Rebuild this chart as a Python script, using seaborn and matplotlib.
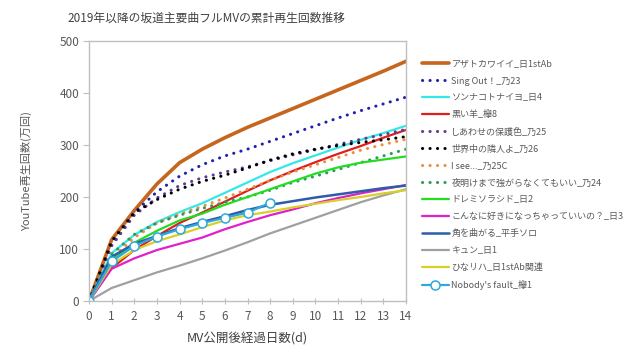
import numpy as np
import pandas as pd
import matplotlib
matplotlib.use('Agg')
import matplotlib.pyplot as plt
import seaborn as sns

days = list(range(15))

azato = [0, 118, 174, 225, 266, 292, 314, 334, 352, 370, 388, 406, 424, 442, 461]
sing_out = [0, 108, 170, 210, 240, 262, 279, 292, 307, 322, 337, 352, 366, 379, 392]
sonnakoto = [0, 92, 127, 152, 171, 188, 208, 228, 248, 265, 280, 295, 310, 323, 337]
kuroi = [0, 63, 98, 125, 150, 170, 191, 212, 232, 250, 267, 283, 298, 314, 329]
shiawase = [0, 106, 165, 198, 222, 237, 248, 258, 270, 281, 291, 301, 311, 320, 330]
sekaijuu = [0, 115, 170, 195, 215, 230, 242, 256, 271, 283, 292, 299, 305, 310, 316]
isee = [0, 82, 122, 150, 167, 182, 198, 215, 232, 248, 262, 276, 290, 301, 311]
yoake = [0, 90, 128, 150, 165, 178, 190, 200, 213, 228, 240, 253, 266, 279, 292]
doremi = [0, 78, 112, 135, 155, 168, 185, 200, 215, 230, 245, 257, 266, 272, 278]
konnani = [0, 62, 82, 98, 110, 122, 138, 152, 165, 176, 188, 198, 207, 215, 223]
kado = [0, 85, 110, 125, 140, 152, 163, 175, 185, 192, 199, 205, 211, 217, 222]
kyun = [0, 25, 40, 55, 68, 82, 97, 113, 130, 145, 160, 175, 190, 203, 215]
hinariha = [0, 70, 98, 115, 128, 142, 155, 165, 172, 180, 187, 194, 200, 207, 213]
nobody_days = list(range(9))
nobody = [0, 76, 106, 124, 138, 150, 160, 170, 189]

labels = ['アザトカワイイ_日1stAb', 'Sing Out！_乃23', 'ソンナコトナイヨ_日4', '黒い羊_欅8',
          'しあわせの保護色_乃25', '世界中の隣人よ_乃26', 'I see..._乃25C',
          '夜明けまで強がらなくてもいい_乃24', 'ドレミソラシド_日2',
          'こんなに好きになっちゃっていいの？_日3', '角を曲がる_平手ソロ', 'キュン_日1',
          'ひなリハ_日1stAb関連', "Nobody's fault_欅1"]

sns.set_theme(style='white')
plt.rcParams['font.family'] = ['Noto Sans CJK JP', 'DejaVu Sans']

fig = plt.figure(figsize=(6.4, 3.56), dpi=100)
ax = fig.add_axes([89 / 640, 1 - 301 / 356, 317 / 640, 260 / 356])

dot = (0, (0.05, 2.4))
series = [
    (azato, '#C5651E', 2.6, '-'),
    (sing_out, '#1F1FB0', 2.2, dot),
    (sonnakoto, '#33E8E8', 1.6, '-'),
    (kuroi, '#E01E1E', 1.6, '-'),
    (shiawase, '#5E3C8E', 2.2, dot),
    (sekaijuu, '#000000', 2.2, dot),
    (isee, '#EE8E3A', 2.2, dot),
    (yoake, '#2E9A5A', 2.2, dot),
    (doremi, '#22DD22', 1.6, '-'),
    (konnani, '#E020C8', 1.6, '-'),
    (kado, '#2E5DA8', 1.8, '-'),
    (kyun, '#A0A0A0', 1.6, '-'),
    (hinariha, '#D6D028', 1.6, '-'),
]

# one call per song so each keeps its own colour / dash style
for (vals, color, lw, ls), label in zip(series, labels[:-1]):
    sns.lineplot(x=days, y=vals, ax=ax, color=color, linewidth=lw, linestyle=ls,
                 dash_capstyle='round', label=label)

sns.lineplot(x=nobody_days, y=nobody, ax=ax, color='#2FA8DC', linewidth=1.6,
             marker='o', markersize=6.5, markerfacecolor='white',
             markeredgecolor='#2FA8DC', markeredgewidth=1.1, label=labels[-1])

ax.set_xlim(0, 14)
ax.set_ylim(0, 500)
ax.set_xticks(range(15))
ax.set_yticks(range(0, 501, 100))
for s in ax.spines.values():
    s.set_color('#BFBFBF')
    s.set_linewidth(1.0)
ax.tick_params(axis='both', which='major', direction='inout', length=5, width=0.8,
               color='#BFBFBF', labelsize=8.5, labelcolor='#595959', pad=4,
               left=True, bottom=True)
ax.tick_params(axis='y', direction='out', length=4, pad=3)

ax.set_xlabel('MV公開後経過日数(d)', fontsize=9, color='#404040', labelpad=7)
ax.set_ylabel('YouTube再生回数(万回)', fontsize=8, color='#595959', labelpad=20)
fig.text(206 / 640, 1 - 18 / 356, '2019年以降の坂道主要曲フルMVの累計再生回数推移',
         ha='center', va='center', fontsize=8.5, color='#404040')

handles, labs = ax.get_legend_handles_labels()
ax.get_legend().remove()
fig.legend(handles, labs, loc='upper left', bbox_to_anchor=(418 / 640, 1 - 56 / 356),
           frameon=False, fontsize=6.5, labelcolor='#595959', handlelength=3.0,
           handletextpad=0.3, labelspacing=0.88, borderaxespad=0)

fig.savefig('out.png', dpi=100, facecolor='white')
